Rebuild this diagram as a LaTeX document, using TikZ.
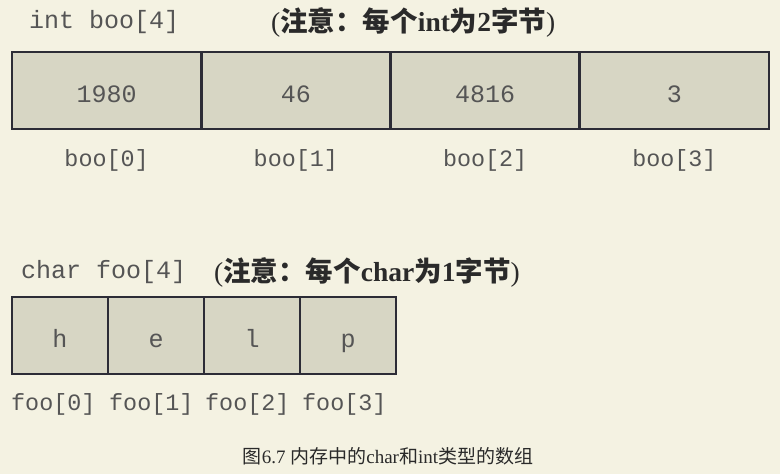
\documentclass[tikz,border=0pt]{standalone}
\usepackage{fontspec}
\setmainfont{Liberation Serif}
\setmonofont{Liberation Mono}
\newfontfamily\cjkfont{Noto Sans CJK SC}
\definecolor{bgc}{HTML}{F4F2E2}
\definecolor{cellc}{HTML}{D7D6C4}
\definecolor{edgec}{HTML}{2C2C36}
\definecolor{txtc}{HTML}{555555}
\definecolor{notec}{HTML}{2A2A2A}
\tikzset{
  cellbox/.style={draw=edgec, fill=cellc, line width=2.8pt, rectangle, inner sep=0pt,
    minimum height=77pt, text height=28pt, text depth=4pt,
    font=\ttfamily\fontsize{25}{25}\selectfont, text=txtc},
  bigcell/.style={cellbox, minimum width=189.25pt},
  smallcell/.style={cellbox, minimum width=96pt},
  idxlabel/.style={font=\ttfamily\fontsize{23.4}{23.4}\selectfont, text=txtc, inner sep=0pt},
  decl/.style={font=\ttfamily\fontsize{25}{25}\selectfont, text=txtc, inner sep=0pt, anchor=west},
  note/.style={font=\fontsize{27.5}{27.5}\selectfont, text=notec, inner sep=0pt, anchor=west},
  caption/.style={font=\fontsize{19}{19}\selectfont, text=notec, inner sep=0pt}
}
\begin{document}
\begin{tikzpicture}[x=1pt,y=-1pt]
\fill[bgc] (0,0) rectangle (780,474);
\useasboundingbox (0,0) rectangle (780,474);
% int array
\node[decl] (intdecl) at (29,22) {int boo[4]};
\node[note] (intnote) at (271,22) {({\cjkfont\bfseries 注意：每个}\textbf{int}{\cjkfont\bfseries 为}\textbf{2}{\cjkfont\bfseries 字节})};
\foreach \i/\v in {0/1980,1/46,2/4816,3/3} {
  \node[bigcell] (b\i) at ({12+189.25*(\i+0.5)},90.5) {\v};
  \node[idxlabel] (bl\i) at ({12+189.25*(\i+0.5)},160) {boo[\i]};
}
% char array
\node[decl] (chardecl) at (21,272) {char foo[4]};
\node[note] (charnote) at (214,272) {({\cjkfont\bfseries 注意：每个}\textbf{char}{\cjkfont\bfseries 为}\textbf{1}{\cjkfont\bfseries 字节})};
\foreach \i/\v in {0/h,1/e,2/l,3/p} {
  \node[smallcell] (f\i) at ({12+96*(\i+0.5)},335.5) {\v};
}
\node[idxlabel, anchor=west] (fl0) at (11,404) {foo[0]};
\node[idxlabel, anchor=west] (fl1) at (109,404) {foo[1]};
\node[idxlabel, anchor=west] (fl2) at (205,404) {foo[2]};
\node[idxlabel, anchor=west] (fl3) at (302,404) {foo[3]};
% caption
\node[caption] (cap) at (388,456) {{\cjkfont 图}6.7 {\cjkfont 内存中的}char{\cjkfont 和}int{\cjkfont 类型的数组}};
\end{tikzpicture}
\end{document}
